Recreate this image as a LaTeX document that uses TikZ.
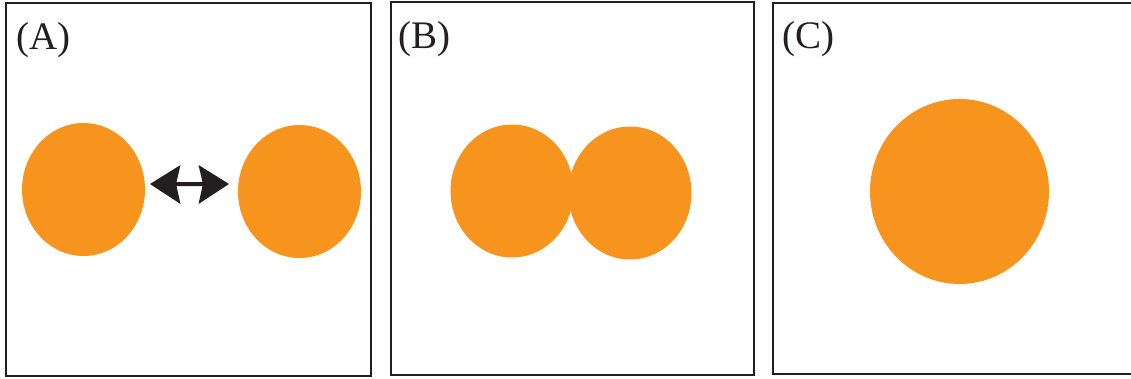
\documentclass[tikz,border=0pt]{standalone}
\usepackage{fontspec}
\setmainfont{Liberation Serif}
\definecolor{blob}{HTML}{F7941D}
\definecolor{ink}{HTML}{231F20}
\begin{document}
\begin{tikzpicture}[x=1pt,y=-1pt,
  panel/.style={draw=ink,line width=1.8pt},
  blobshape/.style={fill=blob},
  lbl/.style={anchor=base west,inner sep=0pt,font=\fontsize{39}{41}\selectfont,text=ink}]
\useasboundingbox (0,0) rectangle (1131,378);
\draw[panel] (6,3) rectangle (371,376);
\draw[panel] (391,2) rectangle (754,375);
\draw[panel] (773,3) rectangle (1140,374);
\node[lbl] (la) at (16,49) {(A)};
\node[lbl] (lb) at (398,48) {(B)};
\node[lbl] (lc) at (782,48) {(C)};
\fill[blobshape] (83.5,189.5) ellipse [x radius=61.5,y radius=66.5];
\fill[blobshape] (299.5,191.5) ellipse [x radius=61.5,y radius=66.5];
\fill[blobshape] (512,191) ellipse [x radius=61.5,y radius=66.5];
\fill[blobshape] (630,193) ellipse [x radius=61.5,y radius=66.5];
\fill[blobshape] (959.5,191.5) ellipse [x radius=89.5,y radius=92.5];
\coordinate (al) at (150,184);
\coordinate (ar) at (229,184);
\fill[ink] (al) -- (180.5,165) -- (176.5,182) -- (202.5,182) -- (198.5,165) -- (ar)
  -- (198.5,204) -- (202.5,186) -- (176.5,186) -- (180.5,204) -- cycle;
\end{tikzpicture}
\end{document}
